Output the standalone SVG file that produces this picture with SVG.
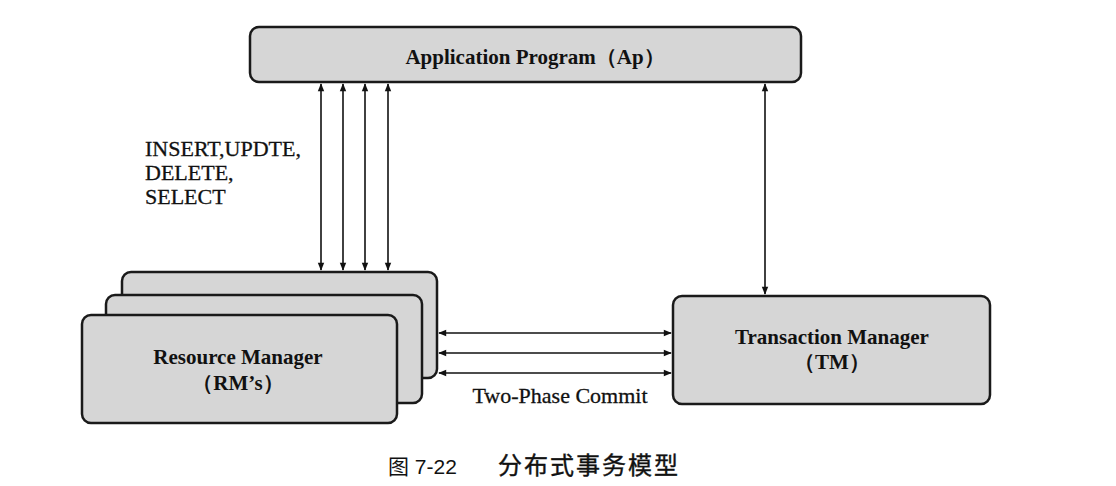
<svg xmlns="http://www.w3.org/2000/svg" width="1116" height="486" viewBox="0 0 1116 486">
<style>
.box{fill:#d6d6d6;stroke:#1a1a1a;stroke-width:2.5}
.lbl{font-family:"Liberation Serif","Times New Roman",serif;font-weight:bold;font-size:21px;fill:#111}
.sm{font-family:"Liberation Serif","Times New Roman",serif;font-size:22px;fill:#111;stroke:#111;stroke-width:0.3}
.cn{font-family:"Liberation Sans","Noto Sans CJK SC",sans-serif;font-size:21px;fill:#111}
.ln{stroke:#111;stroke-width:1.6;fill:none;marker-start:url(#ah);marker-end:url(#ah)}
</style>
<defs>
<marker id="ah" viewBox="0 0 10 10" refX="9" refY="5" markerWidth="10" markerHeight="8" markerUnits="userSpaceOnUse" orient="auto-start-reverse">
<path d="M0,1 L10,5 L0,9 z" fill="#111"/>
</marker>
</defs>
<rect width="1116" height="486" fill="#fff"/>
<g id="connectors">
<line class="ln" x1="321" y1="84" x2="321" y2="270"/>
<line class="ln" x1="343" y1="84" x2="343" y2="270"/>
<line class="ln" x1="365" y1="84" x2="365" y2="270"/>
<line class="ln" x1="388" y1="84" x2="388" y2="270"/>
<line class="ln" x1="765" y1="84" x2="765" y2="294"/>
<line class="ln" x1="439" y1="333" x2="671" y2="333"/>
<line class="ln" x1="439" y1="353" x2="671" y2="353"/>
<line class="ln" x1="439" y1="373" x2="671" y2="373"/>
<text class="sm" x="145" y="156">INSERT,UPDTE,</text>
<text class="sm" x="145" y="180">DELETE,</text>
<text class="sm" x="145" y="204">SELECT</text>
<text class="sm" x="560" y="403" text-anchor="middle">Two-Phase Commit</text>
</g>
<g id="ap">
<rect class="box" x="250" y="27" width="551" height="55" rx="9"/>
<text class="lbl" x="535" y="64" text-anchor="middle">Application Program（Ap）</text>
</g>
<g id="rm">
<rect class="box" x="122" y="272" width="315" height="106" rx="9"/>
<rect class="box" x="106" y="295" width="316" height="108" rx="9"/>
<rect class="box" x="82" y="315" width="315" height="108" rx="9"/>
<text class="lbl" x="238" y="364" text-anchor="middle">Resource Manager</text>
<text class="lbl" x="238" y="390" text-anchor="middle">（RM’s）</text>
</g>
<g id="tm">
<rect class="box" x="673" y="296" width="317" height="108" rx="9"/>
<text class="lbl" x="832" y="344" text-anchor="middle">Transaction Manager</text>
<text class="lbl" x="832" y="369" text-anchor="middle">（TM）</text>
</g>
<text class="cn" x="388" y="474">图 7-22</text>
<text class="cn" x="498" y="474" style="font-size:24px;letter-spacing:2px;stroke:#111;stroke-width:0.4">分布式事务模型</text>
</svg>
